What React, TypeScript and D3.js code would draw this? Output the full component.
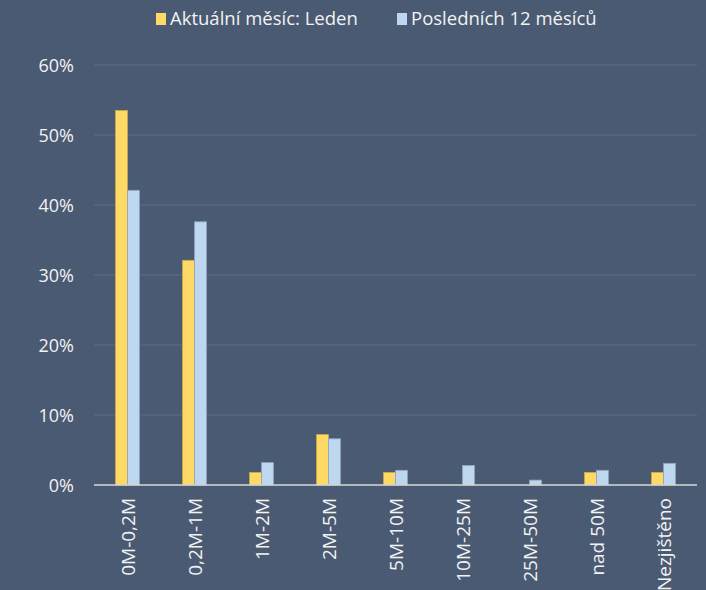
import React from "react";
import * as d3 from "d3";

const categories = ["0M-0,2M", "0,2M-1M", "1M-2M", "2M-5M", "5M-10M", "10M-25M", "25M-50M", "nad 50M", "Nezjištěno"];
const seriesNames = ["Aktuální měsíc: Leden", "Posledních 12 měsíců"];
const currentMonth = [53.5, 32.1, 1.8, 7.2, 1.8, 0, 0, 1.8, 1.8];
const last12 = [42.1, 37.6, 3.2, 6.6, 2.1, 2.8, 0.7, 2.1, 3.1];
const yTicks = [0, 10, 20, 30, 40, 50, 60];

const W = 706, H = 590;
const BG = "#4a5a72";
const COLORS = ["#ffd966", "#bdd7ee"];
const STROKES = ["#c9a94a", "#8ea4bd"];
const FONT = "'Open Sans', 'DejaVu Sans', sans-serif";

export default function App() {
  const x = d3.scaleBand<string>().domain(categories).range([94, 697]).paddingInner(0).paddingOuter(0);
  const y = d3.scaleLinear().domain([0, 60]).range([485, 65]);
  const barW = 12;
  const series = [currentMonth, last12];
  const legendX = [156, 397];
  return (
    <svg width={W} height={H} style={{ position: "absolute", left: 0, top: 0, display: "block" }}>
      <rect x={0} y={0} width={W} height={H} fill={BG} />
      {yTicks.map((t) => (
        <g key={t}>
          {t > 0 && <line x1={94} x2={697} y1={y(t)} y2={y(t)} stroke="#5a6d8b" strokeWidth={1.2} />}
          <text x={74} y={y(t) + 6.5} textAnchor="end" fill="#f2f2f2" fontSize={18} fontFamily={FONT}>{t}%</text>
        </g>
      ))}
      {categories.map((c, i) => {
        const cx = (x(c) as number) + x.bandwidth() / 2;
        return (
          <g key={c}>
            {series.map((s, k) => {
              const v = s[i];
              if (v <= 0) return null;
              const bx = cx - barW + k * barW;
              return (
                <rect key={k} x={bx} y={y(v)} width={barW} height={y(0) - y(v)} fill={COLORS[k]} stroke={STROKES[k]} strokeWidth={0.8} />
              );
            })}
            <text transform={`translate(${cx + 7.5},498) rotate(-90)`} textAnchor="end" fill="#f2f2f2" fontSize={19} fontFamily={FONT}>{c}</text>
          </g>
        );
      })}
      <line x1={94} x2={697} y1={y(0)} y2={y(0)} stroke="#d9d9d9" strokeWidth={1.5} />
      <g>
        {seriesNames.map((n, k) => (
          <g key={n}>
            <rect x={legendX[k]} y={13} width={10} height={12} fill={COLORS[k]} />
            <text x={legendX[k] + 14} y={25} fill="#f2f2f2" fontSize={18.5} fontFamily={FONT}>{n}</text>
          </g>
        ))}
      </g>
    </svg>
  );
}
